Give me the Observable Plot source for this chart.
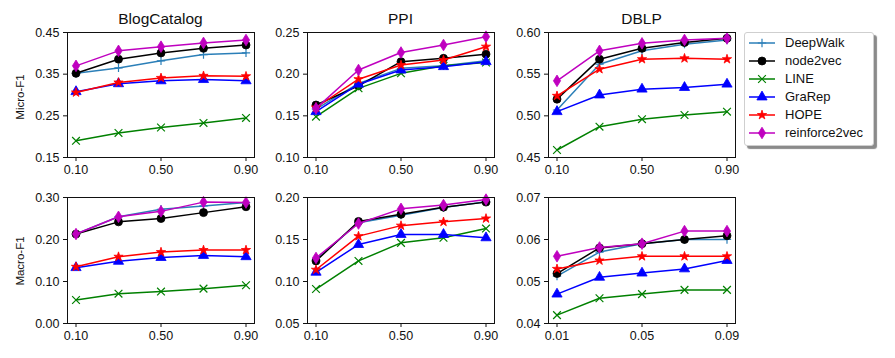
<!DOCTYPE html>
<html>
<head>
<meta charset="utf-8">
<script src="https://cdn.jsdelivr.net/npm/d3@7"></script>
<script src="https://cdn.jsdelivr.net/npm/@observablehq/plot@0.6"></script>
<style>
  html, body { margin: 0; padding: 0; background: #fff; }
  body { width: 895px; height: 358px; position: relative; overflow: hidden; font-family: "Liberation Sans", Arial, sans-serif; color: #111; }
  .panel { position: absolute; }
  .title { position: absolute; text-align: center; font-size: 15.5px; line-height: 18px; }
  .ylab { position: absolute; font-size: 11.5px; line-height: 14px; white-space: nowrap; transform: translate(-50%, -50%) rotate(-90deg); }
  .legend { position: absolute; left: 744px; top: 32px; width: 128px; height: 112px; border: 1px solid #cfcfcf; border-radius: 3px; background: #fff; box-shadow: 3px 3px 1px #8a8a8a; }
  .legend .row { position: absolute; left: 0; height: 18px; width: 128px; }
  .legend .row span { position: absolute; left: 40px; top: 0; font-size: 13px; line-height: 18px; }
  .legend svg { position: absolute; left: 0; top: 0; }
</style>
</head>
<body>
<script>
// ---------- data ----------
const methods = ["DeepWalk", "node2vec", "LINE", "GraRep", "HOPE", "reinforce2vec"];
const colors = ["#2b7fb8", "#000000", "#008000", "#0000ff", "#ff0000", "#bf00bf"];

const xRatio = [0.1, 0.3, 0.5, 0.7, 0.9];
const xRatioSmall = [0.01, 0.03, 0.05, 0.07, 0.09];
const xTicks = [0.1, 0.5, 0.9];
const xTicksSmall = [0.01, 0.05, 0.09];

const titles = ["BlogCatalog", "PPI", "DBLP"];
const rowLabels = ["Micro-F1", "Macro-F1"];

// rows follow the order of `methods`
const blogMicro = [
  [0.352, 0.365, 0.382, 0.397, 0.401],
  [0.352, 0.386, 0.401, 0.412, 0.420],
  [0.190, 0.209, 0.222, 0.233, 0.245],
  [0.308, 0.327, 0.334, 0.337, 0.334],
  [0.306, 0.330, 0.341, 0.346, 0.345],
  [0.370, 0.406, 0.416, 0.425, 0.432]
];
const ppiMicro = [
  [0.158, 0.189, 0.207, 0.210, 0.216],
  [0.163, 0.186, 0.215, 0.219, 0.224],
  [0.149, 0.183, 0.201, 0.210, 0.214],
  [0.155, 0.188, 0.205, 0.209, 0.215],
  [0.160, 0.194, 0.211, 0.217, 0.233],
  [0.159, 0.205, 0.226, 0.235, 0.245]
];
const dblpMicro = [
  [0.507, 0.562, 0.578, 0.586, 0.591],
  [0.520, 0.568, 0.581, 0.588, 0.593],
  [0.459, 0.487, 0.496, 0.501, 0.505],
  [0.505, 0.525, 0.532, 0.534, 0.538],
  [0.524, 0.556, 0.568, 0.569, 0.568],
  [0.542, 0.578, 0.587, 0.591, 0.593]
];
const blogMacro = [
  [0.213, 0.254, 0.272, 0.280, 0.288],
  [0.213, 0.242, 0.250, 0.264, 0.278],
  [0.056, 0.071, 0.076, 0.083, 0.091],
  [0.133, 0.148, 0.157, 0.162, 0.159],
  [0.135, 0.159, 0.170, 0.175, 0.175],
  [0.213, 0.254, 0.267, 0.289, 0.288]
];
const ppiMacro = [
  [0.126, 0.170, 0.179, 0.188, 0.195],
  [0.1245, 0.1715, 0.180, 0.1885, 0.1945],
  [0.091, 0.1245, 0.146, 0.152, 0.163],
  [0.111, 0.144, 0.156, 0.156, 0.152],
  [0.114, 0.154, 0.1665, 0.171, 0.175],
  [0.128, 0.169, 0.1865, 0.191, 0.1975]
];
const dblpMacro = [
  [0.0513, 0.057, 0.059, 0.060, 0.060],
  [0.0519, 0.058, 0.059, 0.060, 0.0609],
  [0.042, 0.046, 0.047, 0.048, 0.048],
  [0.047, 0.051, 0.052, 0.053, 0.055],
  [0.053, 0.055, 0.056, 0.056, 0.056],
  [0.056, 0.0581, 0.059, 0.062, 0.062]
];

const yTicksBlogMicro = [0.15, 0.25, 0.35, 0.45];
const yTicksPpiMicro = [0.10, 0.15, 0.20, 0.25];
const yTicksDblpMicro = [0.45, 0.50, 0.55, 0.60];
const yTicksBlogMacro = [0.00, 0.10, 0.20, 0.30];
const yTicksPpiMacro = [0.05, 0.10, 0.15, 0.20];
const yTicksDblpMacro = [0.04, 0.05, 0.06, 0.07];

// ---------- styling ----------
const thinDiamond = {
  draw(ctx, size) {
    const r = Math.sqrt(size / Math.PI);
    ctx.moveTo(0, -r * 1.45);
    ctx.lineTo(r * 0.9, 0);
    ctx.lineTo(0, r * 1.45);
    ctx.lineTo(-r * 0.9, 0);
    ctx.closePath();
  }
};
const markers = [
  {symbol: "plus", r: 2.8, filled: false},
  {symbol: "circle", r: 4, filled: true},
  {symbol: "times", r: 3.6, filled: false},
  {symbol: "triangle", r: 3.8, filled: true},
  {symbol: "star", r: 2.9, filled: true},
  {symbol: thinDiamond, r: 4, filled: true}
];

const colLeft = [67, 307, 548];
const frameW = 187;
const rowTop = [32, 197];
const frameH = [125, 126];
const mL = 45, mR = 5, mT = 5, mB = 25;

const panels = [
  {row: 0, col: 0, data: blogMicro, x: xRatio, xt: xTicks, yt: yTicksBlogMicro},
  {row: 0, col: 1, data: ppiMicro, x: xRatio, xt: xTicks, yt: yTicksPpiMicro},
  {row: 0, col: 2, data: dblpMicro, x: xRatio, xt: xTicks, yt: yTicksDblpMicro},
  {row: 1, col: 0, data: blogMacro, x: xRatio, xt: xTicks, yt: yTicksBlogMacro},
  {row: 1, col: 1, data: ppiMacro, x: xRatio, xt: xTicks, yt: yTicksPpiMacro},
  {row: 1, col: 2, data: dblpMacro, x: xRatioSmall, xt: xTicksSmall, yt: yTicksDblpMacro}
];

for (const p of panels) {
  const xs = p.x;
  const span = xs[xs.length - 1] - xs[0];
  const xDomain = [xs[0] - span * 0.05, xs[xs.length - 1] + span * 0.05];
  const yDomain = [p.yt[0], p.yt[p.yt.length - 1]];
  const marks = [];
  methods.forEach((m, i) => {
    const rows = xs.map((x, j) => ({x, y: p.data[i][j], method: m}));
    marks.push(Plot.line(rows, {x: "x", y: "y", stroke: colors[i], strokeWidth: 1.5, clip: false}));
    const mk = markers[i];
    marks.push(Plot.dot(rows, {
      x: "x", y: "y", r: mk.r, symbol: mk.symbol,
      fill: mk.filled ? colors[i] : "none",
      stroke: colors[i], strokeWidth: mk.filled ? 0.8 : 1.2
    }));
  });
  marks.push(Plot.frame({stroke: "#111", strokeWidth: 1}));
  const fh = frameH[p.row];
  const chart = Plot.plot({
    width: mL + frameW + mR,
    height: mT + fh + mB,
    marginLeft: mL, marginRight: mR, marginTop: mT, marginBottom: mB,
    style: {fontFamily: "'Liberation Sans', Arial, sans-serif", fontSize: "12.5px", color: "#111", background: "transparent", overflow: "visible"},
    x: {domain: xDomain, ticks: p.xt, tickFormat: d3.format(".2f"), tickSize: 4, tickPadding: 4, label: null},
    y: {domain: yDomain, ticks: p.yt, tickFormat: d3.format(".2f"), tickSize: 4, tickPadding: 4, label: null},
    marks
  });
  const div = document.createElement("div");
  div.className = "panel";
  div.style.left = (colLeft[p.col] - mL) + "px";
  div.style.top = (rowTop[p.row] - mT) + "px";
  div.appendChild(chart);
  document.body.appendChild(div);
}

// titles
titles.forEach((t, c) => {
  const d = document.createElement("div");
  d.className = "title";
  d.textContent = t;
  d.style.left = colLeft[c] + "px";
  d.style.width = frameW + "px";
  d.style.top = "10px";
  document.body.appendChild(d);
});

// row labels
const labelCenters = [97, 261];
rowLabels.forEach((t, r) => {
  const d = document.createElement("div");
  d.className = "ylab";
  d.textContent = t;
  d.style.left = "20px";
  d.style.top = labelCenters[r] + "px";
  document.body.appendChild(d);
});

// legend
const legend = document.createElement("div");
legend.className = "legend";
methods.forEach((m, i) => {
  const row = document.createElement("div");
  row.className = "row";
  row.style.top = (1 + i * 18) + "px";
  const svg = d3.create("svg").attr("width", 36).attr("height", 18);
  svg.append("line").attr("x1", 4).attr("x2", 30).attr("y1", 9).attr("y2", 9)
    .attr("stroke", colors[i]).attr("stroke-width", 1.5);
  const mk = markers[i];
  const symMap = {plus: d3.symbolPlus, circle: d3.symbolCircle, times: d3.symbolTimes, triangle: d3.symbolTriangle, star: d3.symbolStar};
  const type = typeof mk.symbol === "string" ? symMap[mk.symbol] : mk.symbol;
  svg.append("path")
    .attr("d", d3.symbol(type, Math.PI * mk.r * mk.r)())
    .attr("transform", "translate(17,9)")
    .attr("fill", mk.filled ? colors[i] : "none")
    .attr("stroke", colors[i])
    .attr("stroke-width", mk.filled ? 0.8 : 1.2);
  row.appendChild(svg.node());
  const s = document.createElement("span");
  s.textContent = m;
  row.appendChild(s);
  legend.appendChild(row);
});
document.body.appendChild(legend);
</script>
</body>
</html>
